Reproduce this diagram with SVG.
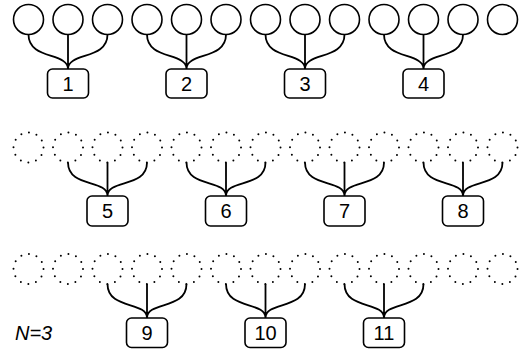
<svg xmlns="http://www.w3.org/2000/svg" width="521" height="349" viewBox="0 0 521 349">
<style>
.c{fill:none;stroke:#000;stroke-width:1.6}
.d{fill:none;stroke:#000;stroke-width:2;stroke-dasharray:0 7.854;stroke-linecap:round}
.b{fill:#fff;stroke:#000;stroke-width:1.6}
.e{fill:none;stroke:#000;stroke-width:1.8}
.t{font-family:"Liberation Sans",Arial,sans-serif;font-size:20px;text-anchor:middle;fill:#000}
</style>
<defs>
<circle id="sc" r="15" class="c"/>
<circle id="dc" r="15" class="d"/>
</defs>
<g id="row1-circles">
<use href="#sc" x="28.5" y="19.5"/><use href="#sc" x="68" y="19.5"/><use href="#sc" x="107.5" y="19.5"/><use href="#sc" x="147" y="19.5"/><use href="#sc" x="186.5" y="19.5"/><use href="#sc" x="226" y="19.5"/><use href="#sc" x="265.5" y="19.5"/><use href="#sc" x="305" y="19.5"/><use href="#sc" x="344.5" y="19.5"/><use href="#sc" x="384" y="19.5"/><use href="#sc" x="423.5" y="19.5"/><use href="#sc" x="463" y="19.5"/><use href="#sc" x="502.5" y="19.5"/>
</g>
<g id="row2-circles">
<use href="#dc" x="28.5" y="147.5"/><use href="#dc" x="68" y="147.5"/><use href="#dc" x="107.5" y="147.5"/><use href="#dc" x="147" y="147.5"/><use href="#dc" x="186.5" y="147.5"/><use href="#dc" x="226" y="147.5"/><use href="#dc" x="265.5" y="147.5"/><use href="#dc" x="305" y="147.5"/><use href="#dc" x="344.5" y="147.5"/><use href="#dc" x="384" y="147.5"/><use href="#dc" x="423.5" y="147.5"/><use href="#dc" x="463" y="147.5"/><use href="#dc" x="502.5" y="147.5"/>
</g>
<g id="row3-circles">
<use href="#dc" x="28.5" y="269"/><use href="#dc" x="68" y="269"/><use href="#dc" x="107.5" y="269"/><use href="#dc" x="147" y="269"/><use href="#dc" x="186.5" y="269"/><use href="#dc" x="226" y="269"/><use href="#dc" x="265.5" y="269"/><use href="#dc" x="305" y="269"/><use href="#dc" x="344.5" y="269"/><use href="#dc" x="384" y="269"/><use href="#dc" x="423.5" y="269"/><use href="#dc" x="463" y="269"/><use href="#dc" x="502.5" y="269"/>
</g>
<g id="connectors" class="e">
<path d="M28.5 34.5C28.5 60 68 52 68 69M68 34.5V69M107.5 34.5C107.5 60 68 52 68 69"/>
<path d="M147 34.5C147 60 186.5 52 186.5 69M186.5 34.5V69M226 34.5C226 60 186.5 52 186.5 69"/>
<path d="M265.5 34.5C265.5 60 305 52 305 69M305 34.5V69M344.5 34.5C344.5 60 305 52 305 69"/>
<path d="M384 34.5C384 60 423.5 52 423.5 69M423.5 34.5V69M463 34.5C463 60 423.5 52 423.5 69"/>
<path d="M68 162.5C68 188 107.5 179 107.5 196M107.5 162.5V196M147 162.5C147 188 107.5 179 107.5 196"/>
<path d="M186.5 162.5C186.5 188 226 179 226 196M226 162.5V196M265.5 162.5C265.5 188 226 179 226 196"/>
<path d="M305 162.5C305 188 344.5 179 344.5 196M344.5 162.5V196M384 162.5C384 188 344.5 179 344.5 196"/>
<path d="M423.5 162.5C423.5 188 463 179 463 196M463 162.5V196M502.5 162.5C502.5 188 463 179 463 196"/>
<path d="M107.5 284C107.5 310 147 301 147 318M147 284V318M186.5 284C186.5 310 147 301 147 318"/>
<path d="M226 284C226 310 265.5 301 265.5 318M265.5 284V318M305 284C305 310 265.5 301 265.5 318"/>
<path d="M344.5 284C344.5 310 384 301 384 318M384 284V318M423.5 284C423.5 310 384 301 384 318"/>
</g>
<g id="node1"><rect class="b" x="47.5" y="69" width="41" height="29" rx="5"/><text class="t" x="68" y="91">1</text></g>
<g id="node2"><rect class="b" x="166" y="69" width="41" height="29" rx="5"/><text class="t" x="186.5" y="91">2</text></g>
<g id="node3"><rect class="b" x="284.5" y="69" width="41" height="29" rx="5"/><text class="t" x="305" y="91">3</text></g>
<g id="node4"><rect class="b" x="403" y="69" width="41" height="29" rx="5"/><text class="t" x="423.5" y="91">4</text></g>
<g id="node5"><rect class="b" x="87" y="196" width="41" height="30" rx="5"/><text class="t" x="107.5" y="218">5</text></g>
<g id="node6"><rect class="b" x="205.5" y="196" width="41" height="30" rx="5"/><text class="t" x="226" y="218">6</text></g>
<g id="node7"><rect class="b" x="324" y="196" width="41" height="30" rx="5"/><text class="t" x="344.5" y="218">7</text></g>
<g id="node8"><rect class="b" x="442.5" y="196" width="41" height="30" rx="5"/><text class="t" x="463" y="218">8</text></g>
<g id="node9"><rect class="b" x="126.5" y="318" width="41" height="29.5" rx="5"/><text class="t" x="147" y="340">9</text></g>
<g id="node10"><rect class="b" x="245" y="318" width="41" height="29.5" rx="5"/><text class="t" x="265.5" y="340">10</text></g>
<g id="node11"><rect class="b" x="363.5" y="318" width="41" height="29.5" rx="5"/><text class="t" x="384" y="340">11</text></g>
<text x="15" y="340" style="font-family:'Liberation Sans',Arial,sans-serif;font-size:20px;font-style:italic">N=3</text>
</svg>
